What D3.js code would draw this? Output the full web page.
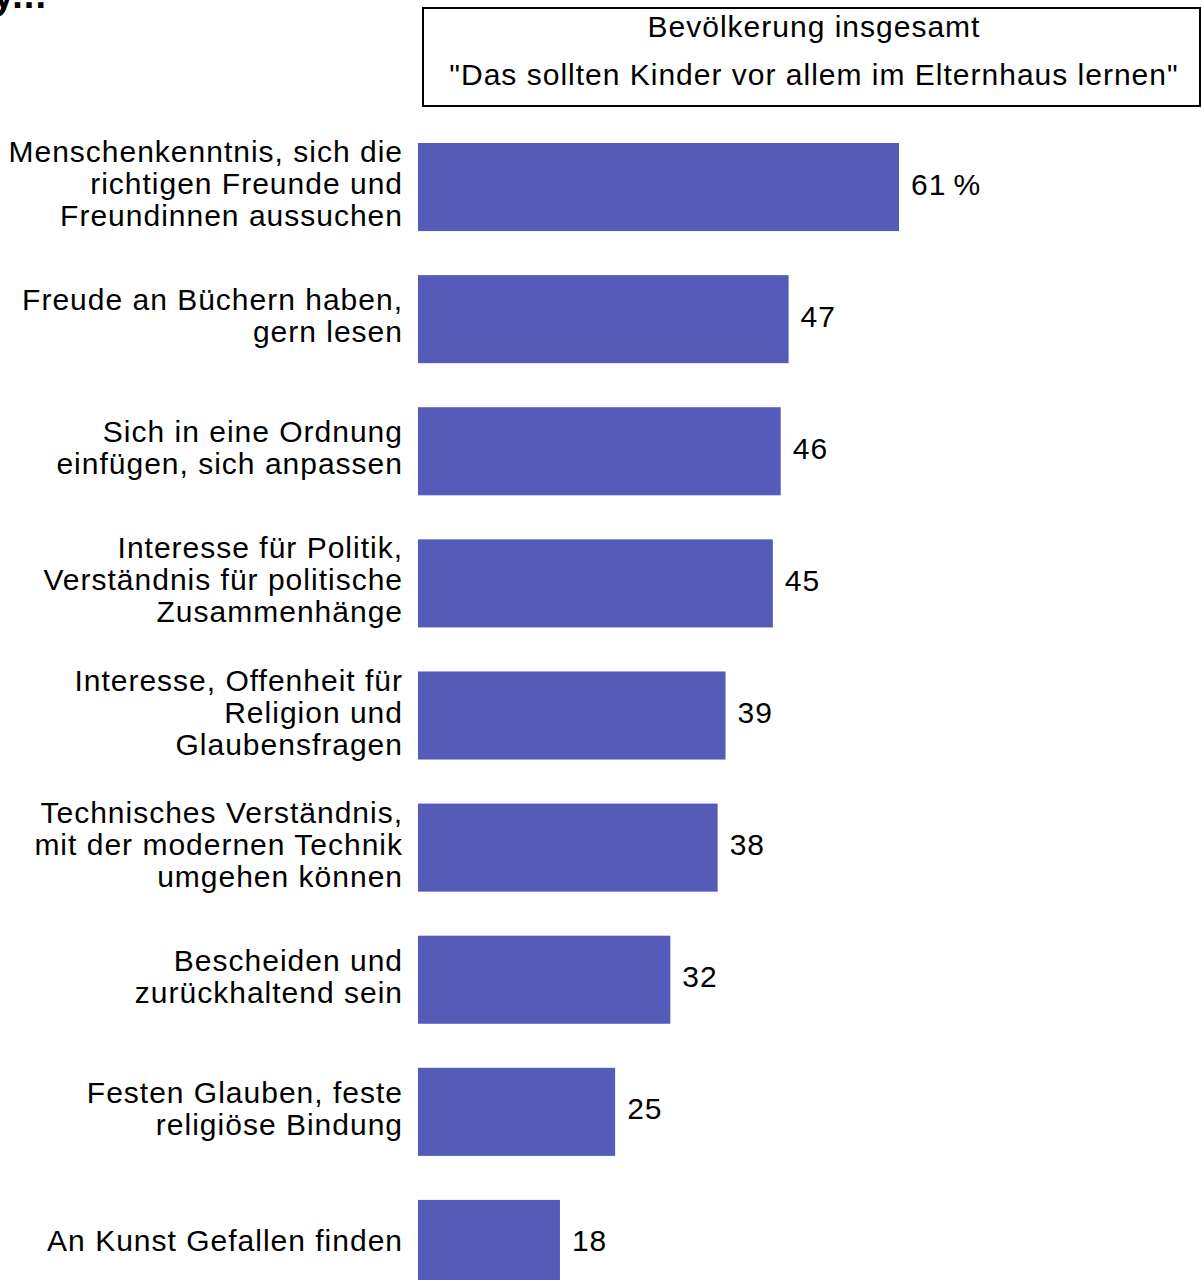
<!DOCTYPE html>
<html><head><meta charset="utf-8">
<script src="https://cdn.jsdelivr.net/npm/d3@7"></script>
<style>
html,body{margin:0;padding:0;background:#fff;overflow:hidden}
svg{display:block;font-family:"Liberation Sans",Arial,sans-serif}
</style></head>
<body>
<svg id="chart" width="1202" height="1280"></svg>
<script>
const categories = [
  ["Menschenkenntnis, sich die","richtigen Freunde und","Freundinnen aussuchen"],
  ["Freude an Büchern haben,","gern lesen"],
  ["Sich in eine Ordnung","einfügen, sich anpassen"],
  ["Interesse für Politik,","Verständnis für politische","Zusammenhänge"],
  ["Interesse, Offenheit für","Religion und","Glaubensfragen"],
  ["Technisches Verständnis,","mit der modernen Technik","umgehen können"],
  ["Bescheiden und","zurückhaltend sein"],
  ["Festen Glauben, feste","religiöse Bindung"],
  ["An Kunst Gefallen finden"]
];
const values = [61, 47, 46, 45, 39, 38, 32, 25, 18];
const valueLabels = ["61\u2009%", "47", "46", "45", "39", "38", "32", "25", "18"];
const headerLines = ["Bevölkerung insgesamt", "\"Das sollten Kinder vor allem im Elternhaus lernen\""];
const titleFragment = "y...";

const svg = d3.select("#chart");
const keys = categories.map((c,i)=>i);

const x = d3.scaleLinear().domain([0, 61]).range([418, 899]);
const y = d3.scaleBand().domain(keys).range([143, 1288]).paddingInner(1/3).paddingOuter(0);

const color = "#545BB8";
const fs = 30;
const ls = 1;

// cut-off title fragment (clipped at the top edge as in the reference)
svg.append("text").attr("x", 47).attr("y", 8).attr("text-anchor", "end")
  .attr("font-size", 38).attr("font-weight", "bold").attr("letter-spacing", 1).attr("fill", "#000")
  .text(titleFragment);

// header box
svg.append("rect").attr("x", 423).attr("y", 8).attr("width", 777).attr("height", 98)
  .attr("fill", "none").attr("stroke", "#000").attr("stroke-width", 2);
svg.append("text").attr("x", 814).attr("y", 37).attr("text-anchor", "middle")
  .attr("font-size", fs).attr("letter-spacing", ls).attr("fill", "#000").text(headerLines[0]);
svg.append("text").attr("x", 814).attr("y", 85).attr("text-anchor", "middle")
  .attr("font-size", fs).attr("letter-spacing", ls).attr("fill", "#000").text(headerLines[1]);

// bars
svg.append("g").selectAll("rect").data(keys).join("rect")
  .attr("x", x(0)).attr("y", d => y(d))
  .attr("width", d => x(values[d]) - x(0)).attr("height", y.bandwidth())
  .attr("fill", color);

// value labels
svg.append("g").selectAll("text").data(keys).join("text")
  .attr("x", d => x(values[d]) + 12)
  .attr("y", d => y(d) + y.bandwidth()/2 + 7.5)
  .attr("font-size", fs).attr("letter-spacing", ls).attr("fill", "#000")
  .text(d => valueLabels[d]);

// category labels
const lh = 32;
const lab = svg.append("g").selectAll("text").data(keys).join("text")
  .attr("text-anchor", "end").attr("font-size", fs).attr("letter-spacing", ls).attr("fill", "#000")
  .attr("y", d => y(d) + y.bandwidth()/2 + 7 - (categories[d].length-1)*lh/2);
lab.selectAll("tspan").data(d => categories[d]).join("tspan")
  .attr("x", 403).attr("dy", (d,i) => i === 0 ? 0 : lh).text(d => d);
</script>
</body></html>
